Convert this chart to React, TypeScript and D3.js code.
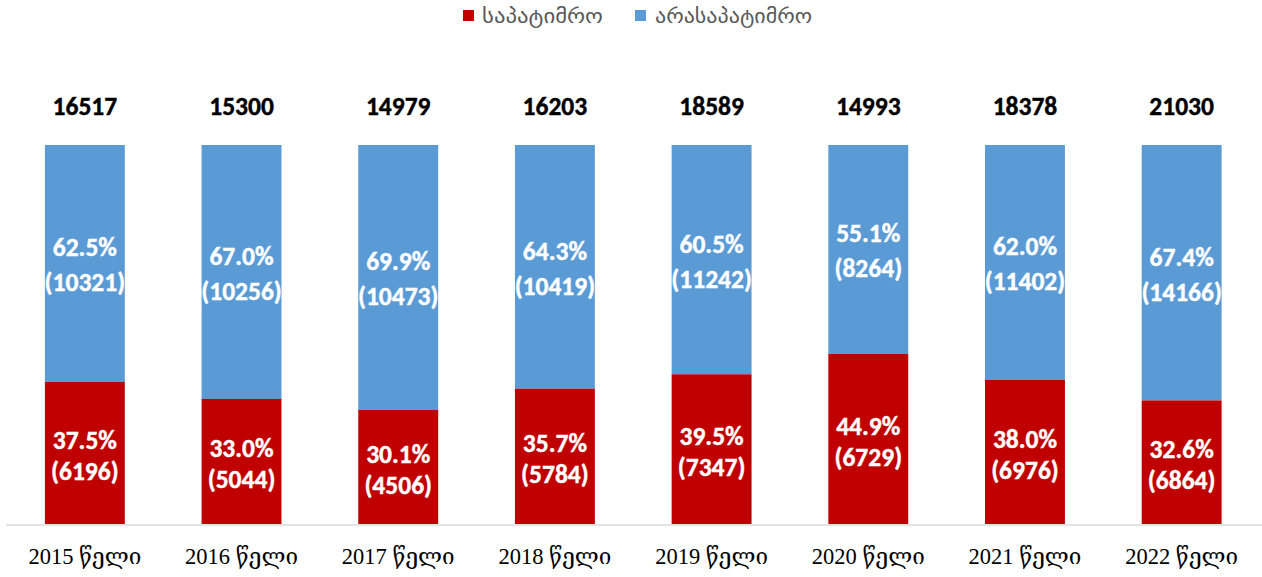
import React from "react";
import * as d3 from "d3";

const years = ["2015 წელი", "2016 წელი", "2017 წელი", "2018 წელი", "2019 წელი", "2020 წელი", "2021 წელი", "2022 წელი"];
const totals = [16517, 15300, 14979, 16203, 18589, 14993, 18378, 21030];
const redPct = [37.5, 33.0, 30.1, 35.7, 39.5, 44.9, 38.0, 32.6];
const redCount = [6196, 5044, 4506, 5784, 7347, 6729, 6976, 6864];
const bluePct = [62.5, 67.0, 69.9, 64.3, 60.5, 55.1, 62.0, 67.4];
const blueCount = [10321, 10256, 10473, 10419, 11242, 8264, 11402, 14166];
const seriesNames = ["საპატიმრო", "არასაპატიმრო"];
const colors = ["#C00000", "#5B9BD5"];

export default function App() {
  const W = 1262, H = 577;
  const x = d3.scaleBand<string>().domain(years).range([6.5, 1260]).paddingInner(0.49).paddingOuter(0.245);
  const y = d3.scaleLinear().domain([0, 100]).range([524, 145]);
  const labelFont = "Calibri, Carlito, 'Open Sans', 'DejaVu Sans', sans-serif";
  return (
    <svg width={W} height={H} style={{ position: "absolute", left: 0, top: 0, background: "#fff" }}>
      {/* legend */}
      <g fontFamily="'DejaVu Sans', 'Noto Sans', sans-serif" fontSize={20} fill="#595959">
        <rect x={463} y={10} width={11} height={11} fill={colors[0]} />
        <text x={482} y={23} textLength={121} lengthAdjust="spacingAndGlyphs">{seriesNames[0]}</text>
        <rect x={635} y={10} width={11} height={11} fill={colors[1]} />
        <text x={655} y={23} textLength={157} lengthAdjust="spacingAndGlyphs">{seriesNames[1]}</text>
      </g>
      {years.map((yr, i) => {
        const bx = x(yr)!;
        const bw = x.bandwidth();
        const cx = bx + bw / 2;
        const yRedTop = y(redPct[i]);
        const yTop = y(100);
        const redMid = (y(0) + yRedTop) / 2;
        const blueMid = (yRedTop + yTop) / 2;
        return (
          <g key={yr}>
            <rect x={bx} y={yTop} width={bw} height={yRedTop - yTop} fill={colors[1]} />
            <rect x={bx} y={yRedTop} width={bw} height={y(0) - yRedTop} fill={colors[0]} />
            <g fontFamily={labelFont} fontWeight="bold" fontSize={25.5} fill="#fff" textAnchor="middle" stroke="#fff" strokeWidth={0.4}>
              <text x={cx} y={blueMid - 7}>{bluePct[i].toFixed(1)}%</text>
              <text x={cx} y={blueMid + 28}>({blueCount[i]})</text>
              <text x={cx} y={redMid - 4}>{redPct[i].toFixed(1)}%</text>
              <text x={cx} y={redMid + 27}>({redCount[i]})</text>
            </g>
            <text x={cx} y={115} textAnchor="middle" fontFamily={labelFont} fontWeight="bold" fontSize={25.5} fill="#000" stroke="#000" strokeWidth={0.4}>{totals[i]}</text>
            <text x={cx} y={564} textAnchor="middle" fontFamily="'Liberation Serif', 'DejaVu Serif', serif" fontSize={22.5} fill="#000">{yr}</text>
          </g>
        );
      })}
      <line x1={6} x2={1262} y1={525} y2={525} stroke="#D9D9D9" strokeWidth={1.5} />
    </svg>
  );
}
